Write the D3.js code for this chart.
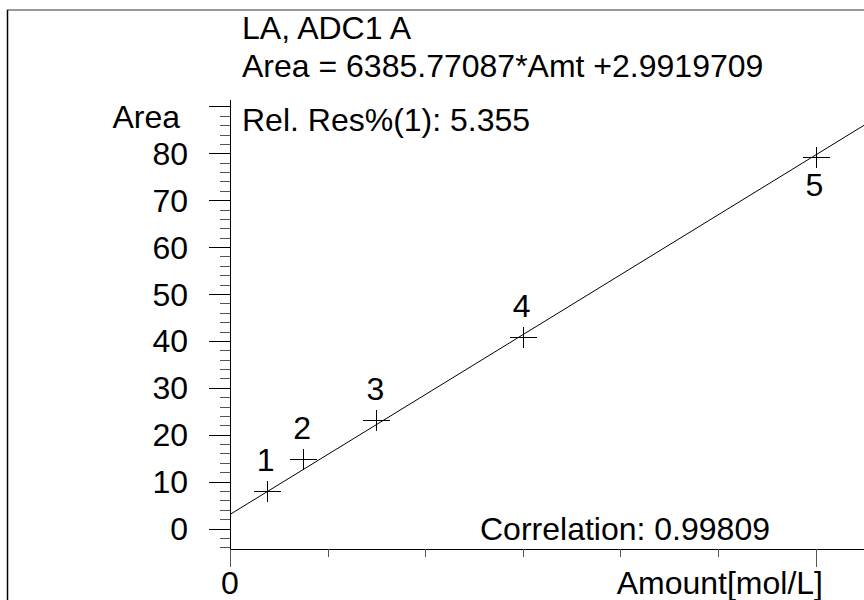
<!DOCTYPE html>
<html>
<head>
<meta charset="utf-8">
<script src="https://cdn.jsdelivr.net/npm/d3@7"></script>
<style>
  html, body { margin: 0; padding: 0; background: #fff; }
  svg { display: block; }
  text { font-family: "Liberation Sans", Arial, Helvetica, sans-serif; fill: #000; }
</style>
</head>
<body>
<svg id="chart" width="864" height="600"></svg>
<script>
// Calibration standards: amount (mol/L) and measured peak area
const amounts = [0.00075, 0.0015, 0.003, 0.006, 0.012];
const areas = [8.06, 14.75, 23.1, 40.8, 79.3];
const levelLabels = ["1", "2", "3", "4", "5"];

// Linear fit reported for this calibration
const slope = 6385.77087;
const intercept = 2.9919709;

const headerLines = ["LA, ADC1 A", "Area = 6385.77087*Amt +2.9919709"];
const relResText = "Rel. Res%(1): 5.355";
const correlationText = "Correlation: 0.99809";

const yMajorTicks = [0, 10, 20, 30, 40, 50, 60, 70, 80, 90];
const yTickLabels = ["0", "10", "20", "30", "40", "50", "60", "70", "80", ""];
const yMinorTicks = d3.range(-4, 91, 2);
const xMajorTicks = [0, 0.012];
const xMinorTicks = [0.002, 0.004, 0.006, 0.008, 0.010];

const W = 864, H = 600;
const FS = 32;
const svg = d3.select("#chart");

const x = d3.scaleLinear().domain([0, 0.012]).range([230, 815.5]);
const y = d3.scaleLinear().domain([0, 80]).range([528.5, 153.3]);

const axisX = 230, axisY = 549, axisTop = 100;

// frame
svg.append("line").attr("x1", 7).attr("x2", W).attr("y1", 10).attr("y2", 10)
  .attr("stroke", "#777").attr("stroke-width", 1.5);
svg.append("line").attr("x1", 7.5).attr("x2", 7.5).attr("y1", 10).attr("y2", H)
  .attr("stroke", "#000").attr("stroke-width", 1.5);

// y axis: minor ticks, then major ticks with labels
const gy = svg.append("g");
gy.append("line").attr("x1", axisX + 0.5).attr("x2", axisX + 0.5)
  .attr("y1", axisTop).attr("y2", axisY).attr("stroke", "#000");
gy.selectAll("line.minor").data(yMinorTicks.filter(v => v % 10 !== 0)).join("line")
  .attr("class", "minor")
  .attr("x1", axisX - 10).attr("x2", axisX)
  .attr("y1", d => Math.round(y(d)) + 0.5).attr("y2", d => Math.round(y(d)) + 0.5)
  .attr("stroke", "#555");
gy.selectAll("line.major").data(yMajorTicks).join("line")
  .attr("class", "major")
  .attr("x1", axisX - 21).attr("x2", axisX)
  .attr("y1", d => Math.round(y(d)) + 0.5).attr("y2", d => Math.round(y(d)) + 0.5)
  .attr("stroke", "#000");
gy.selectAll("text").data(yMajorTicks).join("text")
  .attr("x", 188).attr("y", d => y(d)).attr("dy", "0.36em")
  .attr("text-anchor", "end").attr("font-size", FS)
  .text((d, i) => yTickLabels[i]);
svg.append("text").attr("x", 180).attr("y", 128).attr("text-anchor", "end")
  .attr("font-size", FS).text("Area");

// x axis
const gx = svg.append("g");
gx.append("line").attr("x1", axisX).attr("x2", W)
  .attr("y1", axisY + 0.5).attr("y2", axisY + 0.5).attr("stroke", "#000");
gx.selectAll("line.minor").data(xMinorTicks).join("line")
  .attr("class", "minor")
  .attr("x1", d => Math.round(x(d)) + 0.5).attr("x2", d => Math.round(x(d)) + 0.5)
  .attr("y1", axisY).attr("y2", axisY + 8).attr("stroke", "#555");
gx.selectAll("line.major").data(xMajorTicks).join("line")
  .attr("class", "major")
  .attr("x1", d => Math.round(x(d)) + 0.5).attr("x2", d => Math.round(x(d)) + 0.5)
  .attr("y1", axisY).attr("y2", axisY + 18).attr("stroke", "#555");
svg.append("text").attr("x", x(0)).attr("y", 594).attr("text-anchor", "middle")
  .attr("font-size", FS).text("0");
svg.append("text").attr("x", 823).attr("y", 594).attr("text-anchor", "end")
  .attr("font-size", FS).text("Amount[mol/L]");

// fitted calibration line, clipped to the plot area
svg.append("clipPath").attr("id", "plot")
  .append("rect").attr("x", axisX).attr("y", 10).attr("width", W - axisX).attr("height", axisY - 10);
const xEnd = x.invert(W);
svg.append("line")
  .attr("clip-path", "url(#plot)")
  .attr("x1", x(0)).attr("y1", y(intercept))
  .attr("x2", x(xEnd)).attr("y2", y(slope * xEnd + intercept))
  .attr("stroke", "#000").attr("stroke-width", 1);

// calibration points as crosses with level numbers
const pts = amounts.map((a, i) => ({ a, v: areas[i], label: levelLabels[i] }));
const gp = svg.append("g");
gp.selectAll("path").data(pts).join("path")
  .attr("d", d => {
    const cx = Math.round(x(d.a)) + 0.5, cy = Math.round(y(d.v)) + 0.5;
    return `M${cx - 13.5},${cy}H${cx + 13.5}M${cx},${cy - 10.5}V${cy + 10.5}`;
  })
  .attr("stroke", "#000").attr("stroke-width", 1).attr("fill", "none");
gp.selectAll("text").data(pts).join("text")
  .attr("x", d => x(d.a) - 1)
  .attr("y", d => y(d.v) < 200 ? y(d.v) + 39 : y(d.v) - 20)
  .attr("text-anchor", "middle").attr("font-size", FS)
  .text(d => d.label);

// header and statistics
svg.selectAll("text.head").data(headerLines).join("text")
  .attr("class", "head").attr("x", 242).attr("y", (d, i) => 39 + i * 38)
  .attr("font-size", FS).text(d => d);
svg.append("text").attr("x", 242).attr("y", 131).attr("font-size", FS).text(relResText);
svg.append("text").attr("x", 480).attr("y", 540).attr("font-size", FS).text(correlationText);
</script>
</body>
</html>
